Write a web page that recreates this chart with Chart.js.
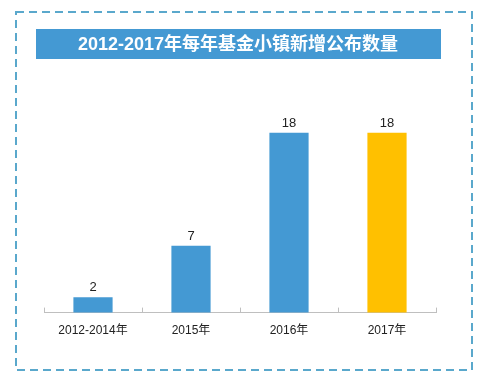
<!DOCTYPE html>
<html>
<head>
<meta charset="utf-8">
<script src="https://cdn.jsdelivr.net/npm/chart.js@4/dist/chart.umd.min.js"></script>
<style>
  html, body { margin: 0; padding: 0; background: #fff; }
  #wrap { width: 491px; height: 386px; position: relative; }
</style>
</head>
<body>
<div id="wrap"><canvas id="c"></canvas></div>
<script>
// данные графика
var titleText = '2012-2017年每年基金小镇新增公布数量';
var categories = ['2012-2014年', '2015年', '2016年', '2017年'];
var values = [2, 7, 18, 18];
var barColors = ['#4499d3', '#4499d3', '#4499d3', '#ffc000'];

var FONT = '"Liberation Sans", "Noto Sans CJK SC", Arial, sans-serif';

// рамка, заголовок, засечки оси и подписи значений
var decorPlugin = {
    id: 'decor',
    beforeDraw: function(chart) {
        var ctx = chart.ctx;
        ctx.save();
        // пунктирная рамка
        ctx.strokeStyle = '#5aa8cc';
        ctx.lineWidth = 2;
        ctx.setLineDash([8, 5]);
        ctx.strokeRect(16, 12, 456, 358);
        ctx.setLineDash([]);
        // плашка заголовка
        ctx.fillStyle = '#4499d3';
        ctx.fillRect(36, 29, 405, 30);
        ctx.fillStyle = '#ffffff';
        ctx.font = 'bold 18px ' + FONT;
        ctx.textAlign = 'center';
        ctx.textBaseline = 'middle';
        ctx.fillText(titleText, 238, 45);
        ctx.restore();
    },
    afterDatasetsDraw: function(chart) {
        var ctx = chart.ctx;
        var area = chart.chartArea;
        ctx.save();
        // засечки между категориями
        ctx.strokeStyle = '#bfbfbf';
        ctx.lineWidth = 1;
        var n = categories.length;
        var step = (area.right - area.left) / n;
        for (var i = 0; i <= n; i++) {
            var x = Math.round(area.left + i * step) + 0.5;
            ctx.beginPath();
            ctx.moveTo(x, area.bottom - 5);
            ctx.lineTo(x, area.bottom);
            ctx.stroke();
        }
        // значения над столбцами
        ctx.fillStyle = '#222';
        ctx.font = '13px ' + FONT;
        ctx.textAlign = 'center';
        ctx.textBaseline = 'bottom';
        chart.getDatasetMeta(0).data.forEach(function(bar, idx) {
            ctx.fillText(String(values[idx]), bar.x, bar.y - 3);
        });
        ctx.restore();
    }
};

var ctx = document.getElementById('c').getContext('2d');
new Chart(ctx, {
    type: 'bar',
    data: {
        labels: categories,
        datasets: [{
            data: values,
            backgroundColor: barColors,
            borderWidth: 0,
            categoryPercentage: 1,
            barPercentage: 0.4
        }]
    },
    options: {
        responsive: true,
        maintainAspectRatio: false,
        animation: false,
        layout: { padding: { top: 100, left: 44, right: 55, bottom: 37 } },
        plugins: {
            legend: { display: false },
            tooltip: { enabled: false },
            title: { display: false }
        },
        scales: {
            x: {
                grid: { display: false, drawTicks: false },
                border: { display: true, color: '#bfbfbf', width: 1 },
                ticks: { color: '#222', font: { size: 12, family: FONT }, padding: 11, maxRotation: 0 }
            },
            y: {
                display: false,
                min: 0.5,
                max: 21.2
            }
        }
    },
    plugins: [decorPlugin]
});
</script>
</body>
</html>
